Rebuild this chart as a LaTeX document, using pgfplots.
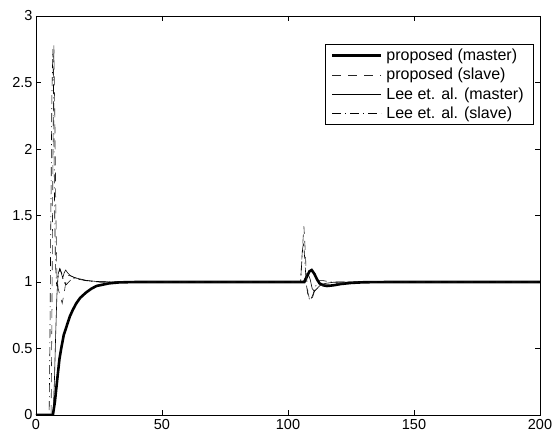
\documentclass[border=0pt]{standalone}
\usepackage{pgfplots}
\pgfplotsset{compat=1.18}
\usepackage{fontspec}
\setmainfont{Liberation Sans}
\pgfplotsset{longleg/.style={legend image code/.code={\draw[##1] (0pt,0pt) -- (49pt,0pt);}}}
\begin{document}
\begin{tikzpicture}
\begin{axis}[
  width=504pt, height=399pt, scale only axis,
  xmin=0, xmax=200, ymin=0, ymax=3,
  xtick={0,50,100,150,200},
  ytick={0,0.5,1,1.5,2,2.5,3},
  yticklabels={0,0.5,1,1.5,2,2.5,3},
  tick align=inside, major tick length=5pt,
  tick style={black, line width=0.6pt},
  axis line style={line width=0.9pt},
  ticklabel style={font=\fontsize{14.5}{16}\selectfont},
  /pgf/number format/assume math mode=true,
  xticklabel style={yshift=-1pt},
  legend cell align=left,
  legend style={at={(0.988,0.93)}, anchor=north east, draw=black, line width=0.6pt,
    font=\fontsize{16}{18}\selectfont, inner xsep=6pt, inner ysep=4pt,
    row sep=4pt, nodes={inner xsep=4pt, inner ysep=1pt}},
]
\addplot[black, line width=2.6pt, longleg] coordinates {
(0,0)(6.7,0)(7.5,0.1)(8.5,0.28)(9.3,0.42)(10,0.5)(11,0.6)(12.2,0.67)(13.4,0.74)(14.6,0.79)(16,0.84)(17.5,0.88)(19.8,0.92)(22,0.95)(24,0.97)(26.5,0.98)(29,0.99)(33,0.997)(40,1)(105,1)(106.5,1.0)(107.5,1.04)(108.5,1.08)(109.4,1.09)(110.5,1.06)(111.5,1.02)(112.5,0.99)(114,0.975)(115.5,0.97)(118,0.975)(121,0.985)(125,0.993)(130,0.998)(140,1)(200,1)};
\addlegendentry{proposed (master)}
\addplot[black!85, line width=0.6pt, dash pattern=on 9pt off 7pt, longleg] coordinates {
(0,0)(6,0)(6.3,0.7)(6.7,1.9)(7.1,2.78)(7.5,2.2)(7.9,1.5)(8.3,1.05)(8.8,0.95)(9.5,0.9)(10.4,0.84)(11.2,0.92)(12,1.02)(13,1.05)(14.5,1.04)(17,1.02)(20,1.01)(25,1.0)(105,1)(105.4,1.15)(105.9,1.3)(106.3,1.42)(106.8,1.25)(107.3,1.05)(107.9,0.92)(108.7,0.86)(109.5,0.87)(110.5,0.93)(111.5,0.97)(113,0.975)(116,0.98)(120,0.99)(126,0.998)(135,1)(200,1)};
\addlegendentry{proposed (slave)}
\addplot[black, line width=0.6pt, longleg] coordinates {
(0,0)(6.8,0)(7.3,0.25)(7.8,0.6)(8.3,0.9)(8.8,1.06)(9.4,1.1)(10,1.07)(10.6,1.03)(11.2,1.07)(11.8,1.09)(12.5,1.07)(13.5,1.05)(15,1.035)(17,1.025)(20,1.012)(24,1.004)(30,1.0)(105,1)(106,1.0)(107,1.04)(108,1.06)(108.8,1.02)(109.6,0.95)(110.5,0.93)(111.5,0.95)(113,0.98)(115,0.99)(118,0.998)(125,1)(200,1)};
\addlegendentry{Lee et. al. (master)}
\addplot[black, line width=0.6pt, dash pattern=on 9pt off 4pt on 1pt off 4pt, longleg] coordinates {
(0,0)(5.2,0)(5.5,0.5)(5.9,1.5)(6.3,2.4)(6.7,2.75)(7.0,2.4)(7.3,1.7)(7.7,1.15)(8.2,0.97)(8.8,1.05)(9.5,1.1)(10.3,1.06)(11,1.0)(12,0.98)(13,1.0)(14.5,1.03)(17,1.02)(20,1.01)(25,1.0)(105,1)(105.3,1.1)(105.8,1.25)(106.2,1.3)(106.7,1.15)(107.3,0.98)(108,0.89)(108.8,0.86)(109.8,0.9)(111,0.97)(112.5,1.01)(114,1.01)(117,1.0)(200,1)};
\addlegendentry{Lee et. al. (slave)}
\end{axis}
\path ([shift={(-36pt,-23pt)}]current axis.south west) rectangle ([shift={(16pt,16pt)}]current axis.north east);
\end{tikzpicture}
\end{document}
